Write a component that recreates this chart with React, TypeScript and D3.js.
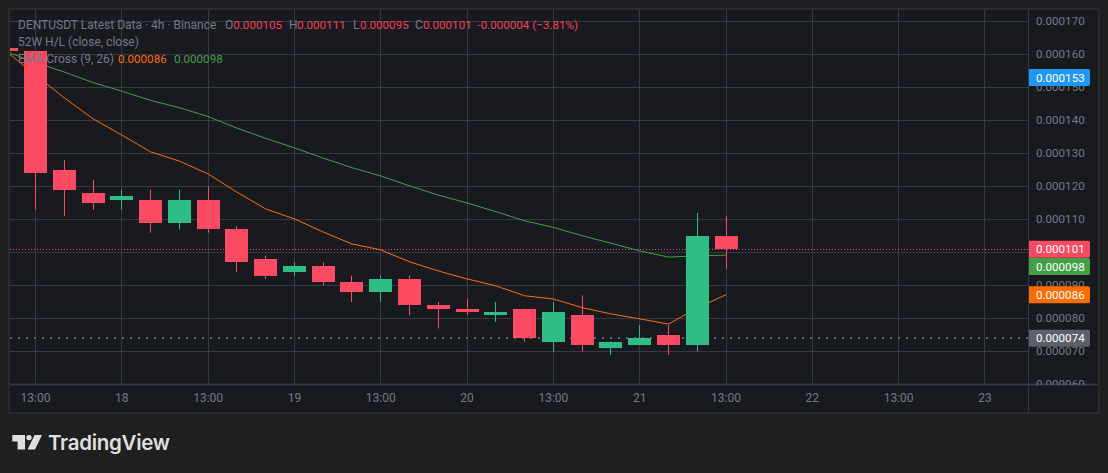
import React from 'react';
import * as d3 from 'd3';

// prices are in units of 0.000001
const opens = [162, 161, 125, 118, 116, 116, 109, 116, 107, 98, 94, 96, 91, 88, 92, 84, 83, 81, 83, 73, 81, 71, 72, 75, 72, 105];
const closes = [161, 124, 119, 115, 117, 109, 116, 107, 97, 93, 96, 91, 88, 92, 84, 83, 82, 82, 74, 82, 72, 73, 74, 72, 105, 101];
const highs = [162, 161, 128, 122, 119, 119, 119, 120, 108, 99, 97, 97, 93, 93, 93, 85, 86, 85, 83, 85, 87, 73, 78, 78, 112, 111];
const lows = [161, 113, 111, 113, 113, 106, 107, 106, 94, 92, 93, 90, 85, 85, 81, 77, 81, 79, 73, 70, 70, 69, 72, 69, 70, 95];

const emaFast = [160.8, 153.8, 146.9, 140.5, 135.6, 130.5, 127.7, 123.8, 118.3, 113.2, 110.2, 106.2, 102.6, 100.8, 97.2, 94.4, 92.0, 89.9, 86.9, 85.9, 83.3, 81.4, 79.9, 78.3, 83.2, 87.2];
const emaSlow = [160.8, 157.6, 154.7, 151.5, 148.9, 146.1, 143.9, 141.2, 137.7, 134.6, 131.7, 128.6, 125.7, 123.2, 120.2, 117.4, 115.0, 112.4, 109.6, 107.6, 105.1, 102.8, 100.5, 98.6, 99.0, 99.2];

const priceTicks = [170, 160, 150, 140, 130, 120, 110, 100, 90, 80, 70, 60];
const timeLabels = ['13:00', '18', '13:00', '19', '13:00', '20', '13:00', '21', '13:00', '22', '13:00', '23'];

const W = 1108;
const H = 473;
const plot = { left: 10, top: 10, right: 1028.5, bottom: 384.5, outerRight: 1098, outerBottom: 412 };
const FONT = 'Roboto, sans-serif';

const UP = '#2ebd85';
const DOWN = '#fb4a62';
const GRID = '#343843';
const MUTED = '#747884';

// candle index -1 is the one cut off at the left edge
const x = d3.scaleLinear().domain([-1, 24]).range([6.7, 726]);
const y = d3.scaleLinear().domain([170, 60]).range([21.5, 384.5]);
const fmt = (v: number) => d3.format('.6f')(v / 1e6);
const snap = (v: number) => Math.floor(v) + 0.5;

const line = d3
  .line<number>()
  .x((_, i) => x(i - 1))
  .y((d) => y(d));

const PriceTag = ({ value, text, fill, dy = 0 }: { value: number; text: string; fill: string; dy?: number }) => (
  <g transform={`translate(${plot.right + 0.5},${y(value) + dy})`}>
    <path d="M0,-8.5H59a2,2 0 0 1 2,2V6.5a2,2 0 0 1 -2,2H0Z" fill={fill} />
    <text x={7} y={4} fill="#fff" fontSize={11.6}>
      {text}
    </text>
  </g>
);

export default function App() {
  return (
    <svg
      width={W}
      height={H}
      viewBox={`0 0 ${W} ${H}`}
      fontFamily={FONT}
      style={{ position: 'absolute', left: 0, top: 0, display: 'block' }}
    >
      <defs>
        <clipPath id="plot-clip">
          <rect x={plot.left} y={plot.top} width={plot.right - plot.left} height={plot.bottom - plot.top} />
        </clipPath>
        <clipPath id="axis-clip">
          <rect x={plot.right} y={plot.top} width={80} height={plot.bottom - plot.top + 0.5} />
        </clipPath>
      </defs>
      <rect width={W} height={H} fill="#1f1f1f" />
      <rect
        x={plot.left - 1}
        y={plot.top - 1}
        width={plot.outerRight - plot.left + 2}
        height={plot.outerBottom - plot.top + 2}
        fill="#181a20"
        stroke="#2a2b2d"
        strokeWidth={2}
      />

      {/* grid */}
      <g stroke={GRID} strokeWidth={1}>
        {priceTicks.slice(0, -1).map((p) => (
          <line key={p} x1={plot.left} x2={plot.right} y1={y(p)} y2={y(p)} />
        ))}
        {timeLabels.map((_, i) => {
          const px = snap(x(i * 3));
          return <line key={i} x1={px} x2={px} y1={plot.top} y2={plot.bottom} />;
        })}
        <line x1={plot.right} x2={plot.right} y1={plot.top} y2={plot.outerBottom} />
      </g>
      <line x1={plot.left} x2={plot.outerRight} y1={plot.bottom} y2={plot.bottom} stroke={GRID} strokeWidth={2} />

      <g clipPath="url(#plot-clip)">
        {/* last price and 52W low */}
        <line x1={plot.left} x2={plot.right} y1={snap(y(101))} y2={snap(y(101))} stroke={DOWN} strokeWidth={1} strokeDasharray="1 2" />
        <line x1={plot.left} x2={plot.right} y1={Math.round(y(74))} y2={Math.round(y(74))} stroke="#5d606b" strokeWidth={2} strokeDasharray="2 6" />

        <path d={line(emaFast) ?? ''} fill="none" stroke="#ff6d00" strokeWidth={1} />
        <path d={line(emaSlow) ?? ''} fill="none" stroke="#43a047" strokeWidth={1} />

        {opens.map((o, i) => {
          const c = closes[i];
          const color = c > o ? UP : DOWN;
          const cx = snap(x(i - 1));
          const top = Math.round(y(Math.max(o, c)));
          const bottom = Math.round(y(Math.min(o, c)));
          return (
            <g key={i} fill={color}>
              <rect x={cx - 0.5} width={1} y={y(highs[i])} height={y(lows[i]) - y(highs[i])} />
              <rect x={cx - 11.5} width={23} y={top} height={bottom - top} />
            </g>
          );
        })}
      </g>

      {/* price axis */}
      <g clipPath="url(#axis-clip)" fill={MUTED} fontSize={11.6}>
        {priceTicks.map((p) => (
          <text key={p} x={1036} y={y(p) + 3.8}>
            {fmt(p)}
          </text>
        ))}
      </g>
      <PriceTag value={153} text={fmt(153)} fill="#2196f3" />
      <PriceTag value={101} text={fmt(101)} fill={DOWN} />
      <PriceTag value={99.2} text={fmt(98)} fill="#43a047" dy={11.4} />
      <PriceTag value={87.2} text={fmt(86)} fill="#ff6d00" />
      <PriceTag value={74} text={fmt(74)} fill="#5d606b" />

      {/* time axis */}
      <g fill={MUTED} fontSize={12} textAnchor="middle">
        {timeLabels.map((t, i) => (
          <text key={i} x={x(i * 3)} y={402}>
            {t}
          </text>
        ))}
      </g>

      {/* legend */}
      <g fontSize={12} fill={MUTED}>
        <text x={18} y={29.3}>DENTUSDT Latest Data · 4h · Binance</text>
        <text x={225} y={29.3}>O</text>
        <text x={289} y={29.3}>H</text>
        <text x={353} y={29.3}>L</text>
        <text x={415} y={29.3}>C</text>
        <text x={18} y={46.3}>52W H/L (close, close)</text>
        <text x={18} y={63.3}>EMA Cross (9, 26)</text>
      </g>
      <g fontSize={11.6} fill="#f23f5a">
        <text x={233.3} y={29.3}>{fmt(105)}</text>
        <text x={297} y={29.3}>{fmt(111)}</text>
        <text x={360} y={29.3}>{fmt(95)}</text>
        <text x={423} y={29.3}>{fmt(101)}</text>
        <text x={477.5} y={29.3}>-0.000004 (−3.81%)</text>
      </g>
      <text x={118} y={63.3} fontSize={11.6} fill="#ff6d00">{fmt(86)}</text>
      <text x={174} y={63.3} fontSize={11.6} fill="#43a047">{fmt(98)}</text>

      {/* logo */}
      <g fill="#dfdfdf">
        <path d="M12.3,435H25V449.5H17.6V441.6H12.3Z" />
        <circle cx={29} cy={437.6} r={2.7} />
        <path d="M34.6,435H42L35,449.5H27.6Z" />
        <text x={48} y={449.5} fontFamily="Inter, sans-serif" fontWeight={600} fontSize={20.5} letterSpacing={-0.3}>
          TradingView
        </text>
      </g>
    </svg>
  );
}
